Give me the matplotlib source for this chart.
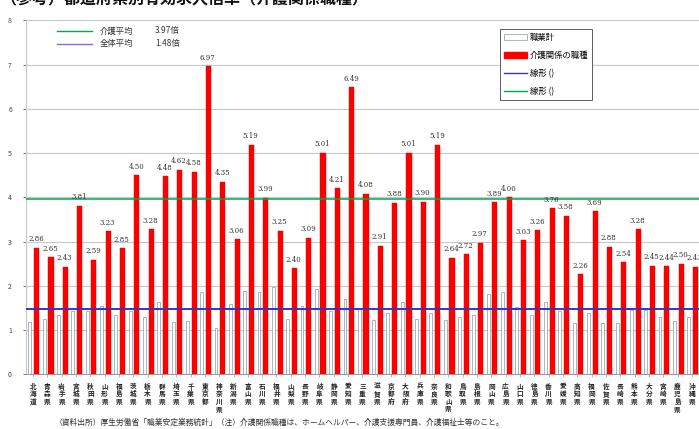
import numpy as np
import matplotlib
matplotlib.use("Agg")
import matplotlib.pyplot as plt
from matplotlib.patches import Patch
from matplotlib.lines import Line2D

plt.rcParams['font.family'] = ['Noto Sans CJK JP', 'DejaVu Sans']

prefs = ["北海道", "青森県", "岩手県", "宮城県", "秋田県", "山形県", "福島県", "茨城県",
         "栃木県", "群馬県", "埼玉県", "千葉県", "東京都", "神奈川県", "新潟県", "富山県",
         "石川県", "福井県", "山梨県", "長野県", "岐阜県", "静岡県", "愛知県", "三重県",
         "滋賀県", "京都府", "大阪府", "兵庫県", "奈良県", "和歌山県", "鳥取県", "島根県",
         "岡山県", "広島県", "山口県", "徳島県", "香川県", "愛媛県", "高知県", "福岡県",
         "佐賀県", "長崎県", "熊本県", "大分県", "宮崎県", "鹿児島県", "沖縄県"]

# 介護関係の職種
care = [2.86, 2.65, 2.43, 3.81, 2.59, 3.23, 2.85, 4.50, 3.28, 4.48, 4.62, 4.58,
        6.97, 4.35, 3.06, 5.19, 3.99, 3.25, 2.40, 3.09, 5.01, 4.21, 6.49, 4.08,
        2.91, 3.88, 5.01, 3.90, 5.19, 2.64, 2.72, 2.97, 3.89, 4.00, 3.03, 3.26,
        3.76, 3.58, 2.26, 3.69, 2.88, 2.54, 3.28, 2.45, 2.44, 2.50, 2.43]

# 職業計
total = [1.18, 1.26, 1.35, 1.43, 1.42, 1.55, 1.33, 1.42, 1.30, 1.63, 1.19, 1.21,
         1.85, 1.04, 1.60, 1.89, 1.85, 1.98, 1.26, 1.54, 1.92, 1.44, 1.71, 1.49,
         1.22, 1.38, 1.63, 1.24, 1.38, 1.22, 1.30, 1.35, 1.81, 1.85, 1.51, 1.34,
         1.63, 1.42, 1.15, 1.38, 1.17, 1.15, 1.45, 1.45, 1.29, 1.21, 1.30]

care_avg = 3.97
all_avg = 1.48

fig = plt.figure(figsize=(6.99, 4.29), dpi=100)
ax = fig.add_axes([0.037, 0.1275, 0.963, 0.825])

x = np.arange(len(prefs))
ax.bar(x - 0.22, total, width=0.2, color='white', edgecolor='#9aaabb', linewidth=0.6, zorder=2)
ax.bar(x + 0.25, care, width=0.36, color='#ff0000', edgecolor='#e00000', linewidth=0.3, zorder=3)

ax.axhline(care_avg, color='#00a650', linewidth=1.1, zorder=4)
ax.axhline(all_avg, color='#3333cc', linewidth=1.4, zorder=4)

for xi, v in zip(x, care):
    ax.text(xi + 0.2, v + 0.1, f"{v:.2f}", ha='center', va='bottom', fontsize=5,
            color='#333333', family='DejaVu Serif', zorder=5)

ax.set_xlim(-0.5, len(prefs) - 0.5)
ax.set_ylim(0, 8)
ax.set_yticks(range(9))
ax.tick_params(axis='y', labelsize=5, colors='#444444', length=2, width=0.5, pad=8)
ax.yaxis.grid(True, color='#c8c8c8', linewidth=0.8, zorder=0)
ax.set_axisbelow(True)
for s in ['top', 'right']:
    ax.spines[s].set_visible(False)
ax.spines['left'].set_color('#c8c8c8')
ax.spines['bottom'].set_color('#999999')

ax.set_xticks(x)
ax.set_xticklabels(["\n".join(p) for p in prefs], fontsize=4.8, linespacing=1.1,
                   fontweight='bold', color='#222222', va='top')
ax.tick_params(axis='x', length=2, width=0.5, colors='#999999', labelcolor='#222222', pad=4)

# 平均の凡例
ax.plot([1.64, 4.09], [7.76, 7.76], color='#00a650', linewidth=1.0, clip_on=False)
ax.plot([1.64, 4.09], [7.47, 7.47], color='#7b6fe8', linewidth=1.0, clip_on=False)
ax.text(4.67, 7.76, "介護平均", fontsize=6, va='center', color='#333333')
ax.text(4.67, 7.47, "全体平均", fontsize=6, va='center', color='#333333')
ax.text(8.5, 7.76, "3.97倍", fontsize=6, va='center', color='#333333')
ax.text(8.5, 7.47, "1.48倍", fontsize=6, va='center', color='#333333')

handles = [Patch(facecolor='white', edgecolor='#9aaabb', linewidth=0.6),
           Patch(facecolor='#ff0000', edgecolor='#ff0000'),
           Line2D([0], [0], color='#3333cc', linewidth=1.0),
           Line2D([0], [0], color='#00a650', linewidth=1.0)]
leg = ax.legend(handles, ["職業計", "介護関係の職種", "線形 ()", "線形 ()"],
                loc='upper left', bbox_to_anchor=(0.705, 0.975), fontsize=6,
                frameon=True, fancybox=False, edgecolor='#444444', framealpha=1,
                handlelength=2.8, handleheight=0.7, labelspacing=1.1, borderpad=0.4,
                handletextpad=0.35, borderaxespad=0)
leg.get_frame().set_linewidth(0.6)

fig.text(0.0, 1.004, "（参考）都道府県別有効求人倍率（介護関係職種）", fontsize=11.5,
         fontweight='bold', va='center', ha='left', color='#111111')
fig.text(0.078, 0.006,
         "（資料出所）厚生労働省「職業安定業務統計」（注）介護関係職種は、ホームヘルパー、介護支援専門員、介護福祉士等のこと。",
         fontsize=5.6, color='#333333', ha='left', va='bottom')

fig.savefig("out.png", dpi=100)
